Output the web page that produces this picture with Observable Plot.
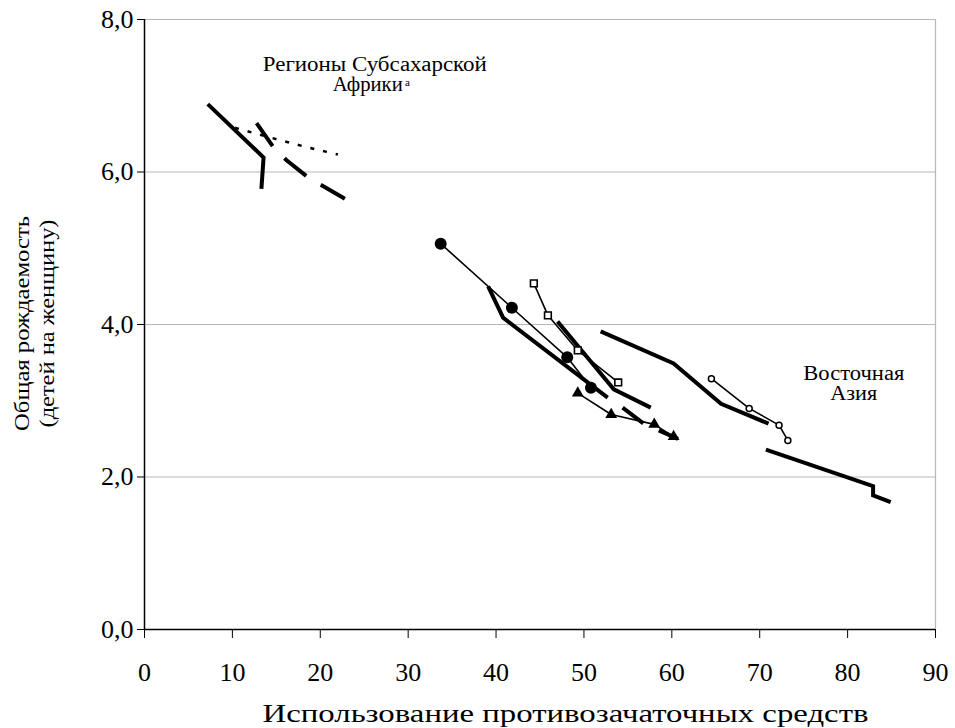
<!DOCTYPE html>
<html>
<head>
<meta charset="utf-8">
<script src="https://cdn.jsdelivr.net/npm/d3@7"></script>
<script src="https://cdn.jsdelivr.net/npm/@observablehq/plot@0.6"></script>
<style>
  html, body { margin: 0; padding: 0; background: #fff; }
  svg { display: block; }
</style>
</head>
<body>
<div id="chart"></div>
<script>
// ---- axis ticks & titles ----
const xTicks = [0, 10, 20, 30, 40, 50, 60, 70, 80, 90];
const yTicks = [0, 2, 4, 6, 8];
const gridY = [2, 4, 6, 8];
const xTitle = "Использование противозачаточных средств";
const yTitle1 = "Общая рождаемость";
const yTitle2 = "(детей на женщину)";

// ---- Sub-Saharan Africa regions ----
const afSolidX = [7.2, 13.55, 13.3];
const afSolidY = [6.89, 6.19, 5.78];
const afDottedX = [10.3, 13.4, 18.3, 22.0];
const afDottedY = [6.58, 6.48, 6.33, 6.23];
const afDashedX = [12.75, 14.7, 16.2, 18.6, 22.8];
const afDashedY = [6.64, 6.32, 6.15, 5.93, 5.65];

// ---- middle cluster ----
const midSolidAX = [39.1, 40.8, 52.7];
const midSolidAY = [4.50, 4.09, 3.04];
const midSolidBX = [47.0, 53.4, 57.6];
const midSolidBY = [4.04, 3.15, 2.91];
const midDashedX = [54.4, 56.8, 60.7];
const midDashedY = [2.91, 2.70, 2.50];
const circleX = [33.7, 41.8, 48.1, 50.8];
const circleY = [5.06, 4.22, 3.57, 3.17];
const squareX = [44.3, 45.9, 49.3, 53.9];
const squareY = [4.54, 4.12, 3.66, 3.24];
const triangleX = [49.3, 53.1, 58.0, 60.2];
const triangleY = [3.10, 2.82, 2.69, 2.53];

// ---- East Asia ----
const eaUpperX = [51.9, 60.2, 65.6, 71.0];
const eaUpperY = [3.91, 3.49, 2.96, 2.70];
const eaLowerX = [70.7, 82.9, 82.9, 84.9];
const eaLowerY = [2.36, 1.88, 1.76, 1.67];
const eaOpenX = [64.5, 68.8, 72.2, 73.2];
const eaOpenY = [3.29, 2.90, 2.68, 2.48];

// ---- annotations (data coordinates) ----
const afLabel1 = {text: "Регионы Субсахарской", x: 26.2, y: 7.415};
const afLabel2 = {text: "Африки", x: 29.38, y: 7.15};
const afLabelSup = {text: "а", x: 29.65, y: 7.18};
const eaLabel1 = {text: "Восточная", x: 80.7, y: 3.35};
const eaLabel2 = {text: "Азия", x: 80.7, y: 3.09};

// rendered widths of the (horizontally stretched) texts of the original
const textWidths = new Map([
  [xTitle, 606], [yTitle1, 215], [yTitle2, 208],
  ["Регионы Субсахарской", 224], ["Африки", 70], ["Восточная", 101], ["Азия", 47]
]);

const pts = (xs, ys) => xs.map((x, i) => ({x, y: ys[i]}));

const thick = {x: "x", y: "y", stroke: "black", strokeWidth: 4, strokeLinecap: "butt", strokeLinejoin: "miter", strokeMiterlimit: 4};
const thin = {x: "x", y: "y", stroke: "black", strokeWidth: 1.6, strokeLinecap: "butt"};

const chart = Plot.plot({
  width: 955,
  height: 728,
  marginLeft: 144,
  marginRight: 20,
  marginTop: 19,
  marginBottom: 99,
  style: {fontFamily: "'Liberation Serif', 'Times New Roman', serif", fontSize: "26px", background: "#fff", color: "#000"},
  x: {domain: [0, 90]},
  y: {domain: [0, 8]},
  marks: [
    Plot.ruleY(gridY, {stroke: "#b8b8b8", strokeWidth: 1.2}),
    Plot.ruleX([90], {stroke: "#b8b8b8", strokeWidth: 1.2}),
    Plot.axisX({ticks: xTicks, tickSize: 9, tickPadding: 24, label: null, tickFormat: d => String(d)}),
    Plot.axisY({ticks: yTicks, tickSize: 7, tickPadding: 4, label: null, tickFormat: d => d.toFixed(1).replace(".", ",")}),
    Plot.ruleX([0], {stroke: "black", strokeWidth: 1.5}),
    Plot.ruleY([0], {stroke: "black", strokeWidth: 1.5}),

    // Africa
    Plot.line(pts(afSolidX, afSolidY), thick),
    Plot.line(pts(afDashedX, afDashedY), {...thick, strokeDasharray: "28,17"}),
    Plot.line(pts(afDottedX, afDottedY), {...thin, strokeWidth: 2.5, strokeDasharray: "4,9"}),

    // middle
    Plot.line(pts(midSolidAX, midSolidAY), thick),
    Plot.line(pts(midSolidBX, midSolidBY), thick),
    Plot.line(pts(midDashedX, midDashedY), {...thick, strokeDasharray: "26,17"}),
    Plot.line(pts(circleX, circleY), thin),
    Plot.dot(pts(circleX, circleY), {x: "x", y: "y", r: 6, fill: "black"}),
    Plot.line(pts(squareX, squareY), thin),
    Plot.dot(pts(squareX, squareY), {x: "x", y: "y", symbol: "square", r: 3.8, fill: "white", stroke: "black", strokeWidth: 1.6}),
    Plot.line(pts(triangleX, triangleY), thin),
    Plot.dot(pts(triangleX, triangleY), {x: "x", y: "y", symbol: "triangle", r: 4.4, fill: "black"}),

    // East Asia
    Plot.line(pts(eaUpperX, eaUpperY), thick),
    Plot.line(pts(eaLowerX, eaLowerY), thick),
    Plot.line(pts(eaOpenX, eaOpenY), thin),
    Plot.dot(pts(eaOpenX, eaOpenY), {x: "x", y: "y", r: 3, fill: "white", stroke: "black", strokeWidth: 1.5}),

    // annotations
    Plot.text([afLabel1], {x: "x", y: "y", text: "text", fontSize: 20, textAnchor: "middle", lineAnchor: "middle"}),
    Plot.text([afLabel2], {x: "x", y: "y", text: "text", fontSize: 20, textAnchor: "end", lineAnchor: "middle"}),
    Plot.text([afLabelSup], {x: "x", y: "y", text: "text", fontSize: 11, textAnchor: "start", lineAnchor: "middle"}),
    Plot.text([eaLabel1, eaLabel2], {x: "x", y: "y", text: "text", fontSize: 20, textAnchor: "middle", lineAnchor: "middle"}),

    // axis titles
    Plot.text([yTitle1], {frameAnchor: "left", dx: -122, dy: -1, rotate: -90, fontSize: 21, lineAnchor: "middle", textAnchor: "middle"}),
    Plot.text([yTitle2], {frameAnchor: "left", dx: -97, dy: -1, rotate: -90, fontSize: 21, lineAnchor: "middle", textAnchor: "middle"}),
    Plot.text([xTitle], {frameAnchor: "bottom", dx: -277.5, dy: 84, fontSize: 26, lineAnchor: "middle", textAnchor: "start"})
  ]
});

// stretch texts horizontally to the widths they have in the original
d3.select(chart).selectAll("text").each(function() {
  const w = textWidths.get(this.textContent);
  if (w) {
    this.setAttribute("textLength", w);
    this.setAttribute("lengthAdjust", "spacingAndGlyphs");
  }
});

document.getElementById("chart").appendChild(chart);
</script>
</body>
</html>
